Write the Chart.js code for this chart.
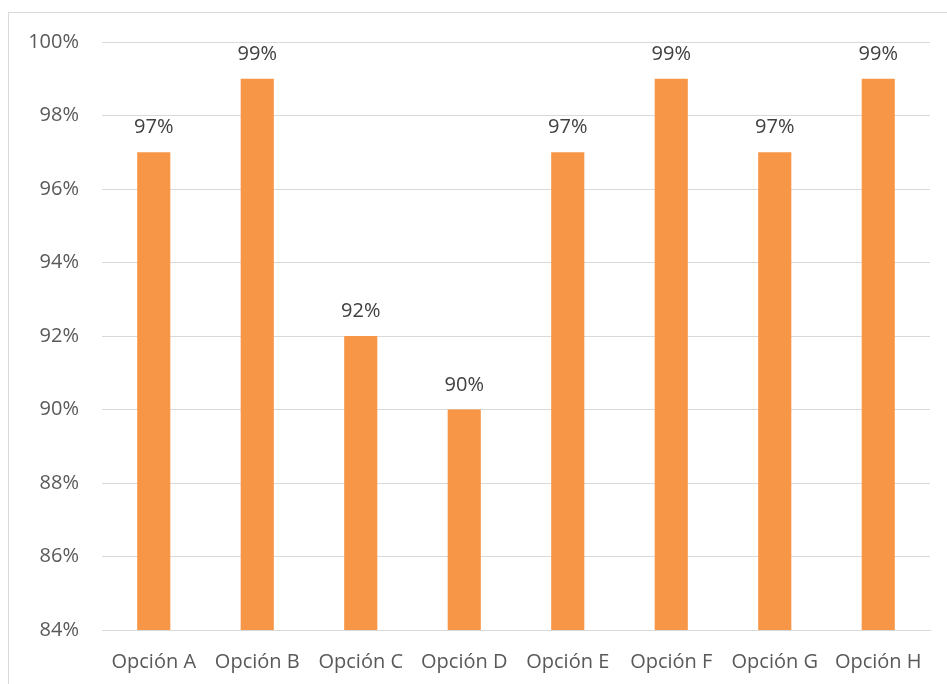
<!DOCTYPE html>
<html lang="es">
<head>
    <meta charset="UTF-8">
    <title>Opciones</title>
    <style>
        body {
            margin: 0;
            padding: 0;
            background: #ffffff;
            overflow: hidden;
        }
        .frame {
            position: absolute;
            left: 8px;
            top: 12px;
            width: 980px;
            height: 720px;
            border: 1px solid #d9d9d9;
        }
        #chart {
            position: absolute;
            left: 0;
            top: 0;
        }
    </style>
    <script src="https://cdn.jsdelivr.net/npm/chart.js"></script>
</head>
<body>
    <div class="frame"></div>
    <canvas id="chart" width="947" height="684"></canvas>

    <script>
        const categories = ["Opción A", "Opción B", "Opción C", "Opción D", "Opción E", "Opción F", "Opción G", "Opción H"];
        const values = [97, 99, 92, 90, 97, 99, 97, 99];
        const yTicks = [84, 86, 88, 90, 92, 94, 96, 98, 100];

        // etiquetas encima de cada barra
        const valueLabels = {
            id: "valueLabels",
            afterDatasetsDraw(chart) {
                const ctx = chart.ctx;
                const meta = chart.getDatasetMeta(0);
                ctx.save();
                ctx.font = "20px 'Open Sans'";
                ctx.fillStyle = "#404040";
                ctx.textAlign = "center";
                ctx.textBaseline = "alphabetic";
                meta.data.forEach((bar, i) => {
                    ctx.fillText(values[i] + "%", bar.x, bar.y - 19);
                });
                ctx.restore();
            }
        };

        const ctx = document.getElementById("chart").getContext("2d");
        new Chart(ctx, {
            type: "bar",
            data: {
                labels: categories,
                datasets: [{
                    data: values,
                    backgroundColor: "#f79646",
                    borderWidth: 0,
                    categoryPercentage: 1,
                    barPercentage: 0.32
                }]
            },
            options: {
                responsive: false,
                animation: false,
                devicePixelRatio: 1,
                layout: {
                    padding: { left: 0, top: 42, right: 17, bottom: 0 }
                },
                plugins: {
                    legend: { display: false },
                    tooltip: { enabled: false }
                },
                scales: {
                    x: {
                        grid: { display: false, drawTicks: false },
                        border: { display: true, color: "#d9d9d9", width: 1 },
                        ticks: {
                            color: "#595959",
                            font: { family: "'Open Sans'", size: 20 },
                            padding: 20,
                            maxRotation: 0,
                            autoSkip: false
                        },
                        afterFit(scale) { scale.height = 54; }
                    },
                    y: {
                        min: yTicks[0],
                        max: yTicks[yTicks.length - 1],
                        afterBuildTicks(scale) {
                            scale.ticks = yTicks.map(v => ({ value: v }));
                        },
                        grid: { color: "#d9d9d9", lineWidth: 1, drawTicks: false },
                        border: { display: false },
                        ticks: {
                            color: "#595959",
                            font: { family: "'Open Sans'", size: 20 },
                            padding: 23,
                            callback: v => v + "%"
                        },
                        afterFit(scale) { scale.width = 102; }
                    }
                }
            },
            plugins: [valueLabels]
        });
    </script>
</body>
</html>
